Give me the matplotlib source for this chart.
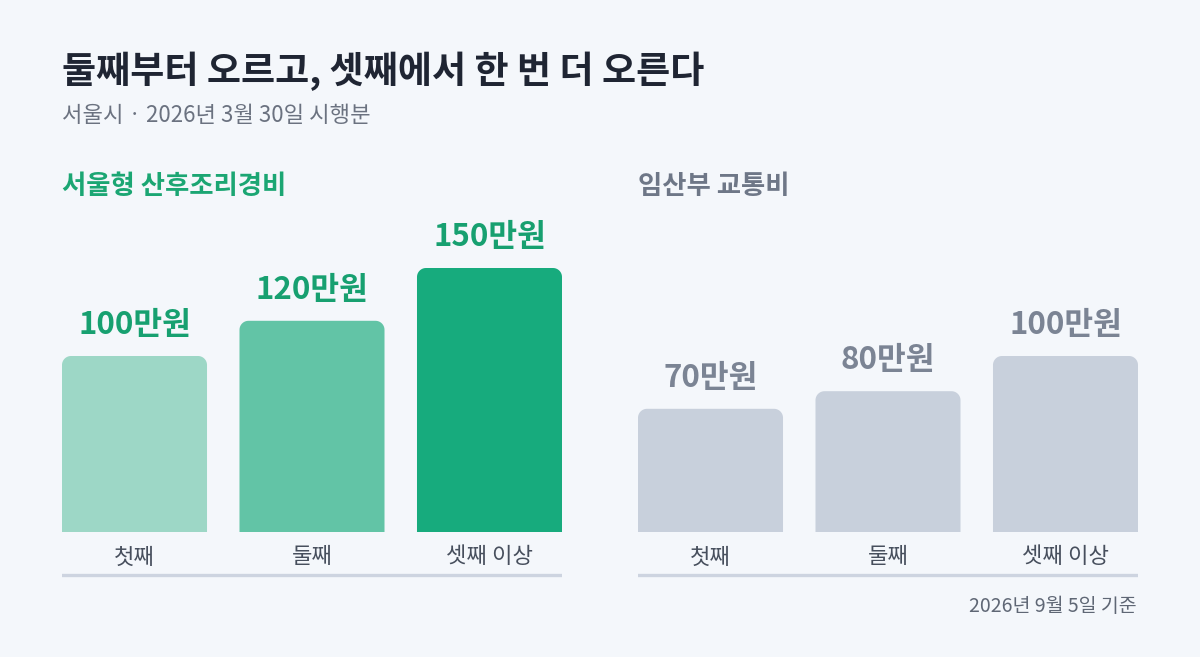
import matplotlib
matplotlib.use('Agg')
import matplotlib.pyplot as plt
from matplotlib.patches import PathPatch
from matplotlib.path import Path
import numpy as np

plt.rcParams['font.family'] = ['Noto Sans CJK KR', 'DejaVu Sans']

# data
CATS = ['첫째', '둘째', '셋째 이상']
CARE_VALUES = [100, 120, 150]      # 서울형 산후조리경비 (만원)
TRANSPORT_VALUES = [70, 80, 100]   # 임산부 교통비 (만원)

TITLE = '둘째부터 오르고, 셋째에서 한 번 더 오른다'
SUBTITLE = '서울시 · 2026년 3월 30일 시행분'
PANEL_TITLES = ['서울형 산후조리경비', '임산부 교통비']
NOTE = '2026년 9월 5일 기준'

BG = '#F4F7FB'
GREENS = ['#9DD7C6', '#62C4A6', '#17AB7D']
GRAYS = ['#C8D0DC', '#C8D0DC', '#C8D0DC']

W, H = 1200, 657
fig = plt.figure(figsize=(W / 100, H / 100), dpi=100, facecolor=BG)

PX_PER_UNIT = 1.76
YMIN, YMAX = -30, 190
BASE_Y = 532  # pixel row of value 0 (from top)
ax_h = (YMAX - YMIN) * PX_PER_UNIT
ax_bottom = H - (BASE_Y + (-YMIN) * PX_PER_UNIT)


def top_rounded(x0, w, h, rx, ry):
    # outline of a bar with rounded top corners only
    t = np.linspace(0, np.pi / 2, 12)
    pts = [(x0, 0)]
    for a in t:  # top-left corner
        pts.append((x0 + rx - rx * np.cos(a), h - ry + ry * np.sin(a)))
    for a in t:  # top-right corner
        pts.append((x0 + w - rx + rx * np.sin(a), h - ry + ry * np.cos(a)))
    pts.append((x0 + w, 0))
    pts.append((x0, 0))
    return Path(pts, closed=True)


def draw_panel(left_px, values, colors, label_color, title, title_color):
    ax = fig.add_axes([left_px / W, ax_bottom / H, 500 / W, ax_h / H])
    ax.set_facecolor('none')
    x = np.arange(len(values))
    width = 0.817
    ax.set_xlim(-width / 2, len(values) - 1 + width / 2)
    ax.set_ylim(YMIN, YMAX)
    bars = ax.bar(x, values, width=width, color=colors, linewidth=0)
    r_px = 9
    x_unit_px = 500 / (len(values) - 1 + width)
    for b, c in zip(bars, colors):
        b.set_visible(False)
        bx, bw, bh = b.get_x(), b.get_width(), b.get_height()
        path = top_rounded(bx, bw, bh, r_px / x_unit_px, r_px / PX_PER_UNIT)
        ax.add_patch(PathPatch(path, facecolor=c, edgecolor='none'))
        ax.annotate('%d만원' % bh, (bx + bw / 2, bh), xytext=(0, 31),
                    textcoords='offset pixels', ha='center', va='center',
                    fontsize=22.5, fontweight='bold', color=label_color)
    for xi, cat in zip(x, CATS):
        ax.text(xi, -14.2, cat, ha='center', va='center', fontsize=16,
                fontweight='medium', color='#474F5D')
    ax.axhline(-24.4, color='#CDD4E0', lw=2.4)
    ax.axis('off')
    fig.text(left_px / W, 1 - 186 / H, title, ha='left', va='center',
             fontsize=19, fontweight='bold', color=title_color)
    return ax


draw_panel(62, CARE_VALUES, GREENS, '#17A070', PANEL_TITLES[0], '#1BA673')
draw_panel(638, TRANSPORT_VALUES, GRAYS, '#7B8494', PANEL_TITLES[1], '#6E7787')

fig.text(62 / W, 1 - 71 / H, TITLE, ha='left', va='center', fontsize=26.7,
         fontweight='bold', color='#1F2533')
fig.text(62 / W, 1 - 115 / H, SUBTITLE, ha='left', va='center', fontsize=16,
         color='#6B7280')
fig.text(1137 / W, 1 - 607 / H, NOTE, ha='right', va='center', fontsize=14,
         color='#5F6775')

fig.savefig('out.png', dpi=100, facecolor=BG)
